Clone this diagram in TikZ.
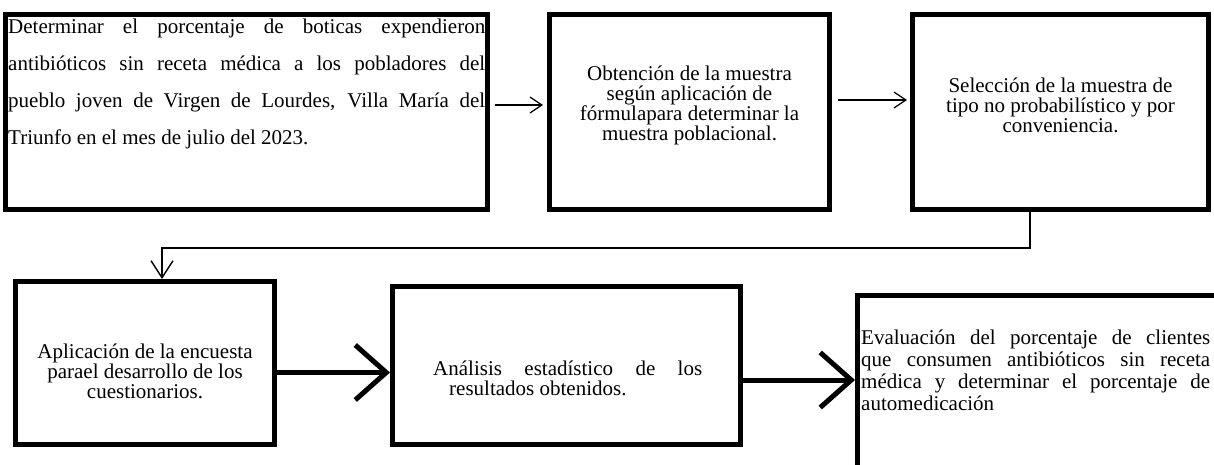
\documentclass[tikz,border=0pt]{standalone}
\usepackage{fontspec}
\setmainfont{Liberation Serif}
\usetikzlibrary{arrows.meta}
\tikzset{
  box/.style={draw, line width=5pt, inner sep=0pt, rectangle},
  thinarr/.style={line width=1.2pt, -{Straight Barb[length=12pt,width=16pt]}},
  conn/.style={line width=1.4pt, -{Straight Barb[length=17pt,width=22pt]}},
  thickarr/.style={line width=5pt, -{Straight Barb[length=31pt,width=55pt]}},
  txt/.style={inner sep=0pt, font=\fontsize{21}{20}\selectfont},
}
\begin{document}
\begin{tikzpicture}[x=1pt,y=-1pt]
\clip (0,0) rectangle (1214,464);
% boxes
\node[box, minimum width=482pt, minimum height=195pt] (b1) at (246.5,112) {};
\node[box, minimum width=280pt, minimum height=195pt] (b2) at (689.5,112) {};
\node[box, minimum width=296pt, minimum height=195pt] (b3) at (1060.5,112) {};
\node[box, minimum width=259pt, minimum height=163pt] (b4) at (145,363) {};
\node[box, minimum width=348pt, minimum height=158pt] (b5) at (566.5,365.5) {};
\node[box, minimum width=382.5pt, minimum height=194.5pt] (b6) at (1048.75,392.75) {};
% texts
\node[txt, anchor=base west] (t1) at (8,33) {\parbox[t]{477pt}{\fontsize{21}{37}\selectfont
\makebox[\linewidth][s]{Determinar el porcentaje de boticas expendieron}\\
\makebox[\linewidth][s]{antibióticos sin receta médica a los pobladores del}\\
\makebox[\linewidth][s]{pueblo joven de Virgen de Lourdes, Villa María del}\\
Triunfo en el mes de julio del 2023.}};
\node[txt, anchor=base] (t2) at (689.5,80) {\parbox[t]{270pt}{\centering\fontsize{21}{20}\selectfont
Obtención de la muestra\\ según aplicación de\\ fórmulapara determinar la\\ muestra poblacional.}};
\node[txt, anchor=base] (t3) at (1060.5,92) {\parbox[t]{280pt}{\centering\fontsize{21}{20}\selectfont
Selección de la muestra de\\ tipo no probabilístico y por\\ conveniencia.}};
\node[txt, anchor=base] (t4) at (145,358) {\parbox[t]{250pt}{\centering\fontsize{21}{20}\selectfont
Aplicación de la encuesta\\ parael desarrollo de los\\ cuestionarios.}};
\node[txt, anchor=base west] (t5) at (433,375) {\parbox[t]{269pt}{\fontsize{21}{20}\selectfont
\makebox[\linewidth][s]{Análisis estadístico de los}\\
\hspace*{16pt}resultados obtenidos.}};
\node[txt, anchor=base west] (t6) at (861,344) {\parbox[t]{349pt}{\fontsize{21}{22}\selectfont
\makebox[\linewidth][s]{Evaluación del porcentaje de clientes}\\
\makebox[\linewidth][s]{que consumen antibióticos sin receta}\\
\makebox[\linewidth][s]{médica y determinar el porcentaje de}\\
automedicación}};
% connectors
\draw[thinarr] ([xshift=5pt,yshift=7pt]b1.east) -- ([xshift=-4pt,yshift=7pt]b2.west);
\draw[thinarr] ([xshift=6pt,yshift=12pt]b2.east) -- ([xshift=-3pt,yshift=12pt]b3.west);
\draw[conn] ([xshift=-30.5pt]b3.south) -- ++(0,36) -| ([xshift=17pt]b4.north);
\coordinate (s1) at ([yshift=-9.5pt]b4.east);
\draw[thickarr] (s1) -- (s1 -| b5.west);
\coordinate (s2) at ([yshift=-14.5pt]b5.east);
\draw[thickarr] (s2) -- (s2 -| b6.west);
\end{tikzpicture}
\end{document}
